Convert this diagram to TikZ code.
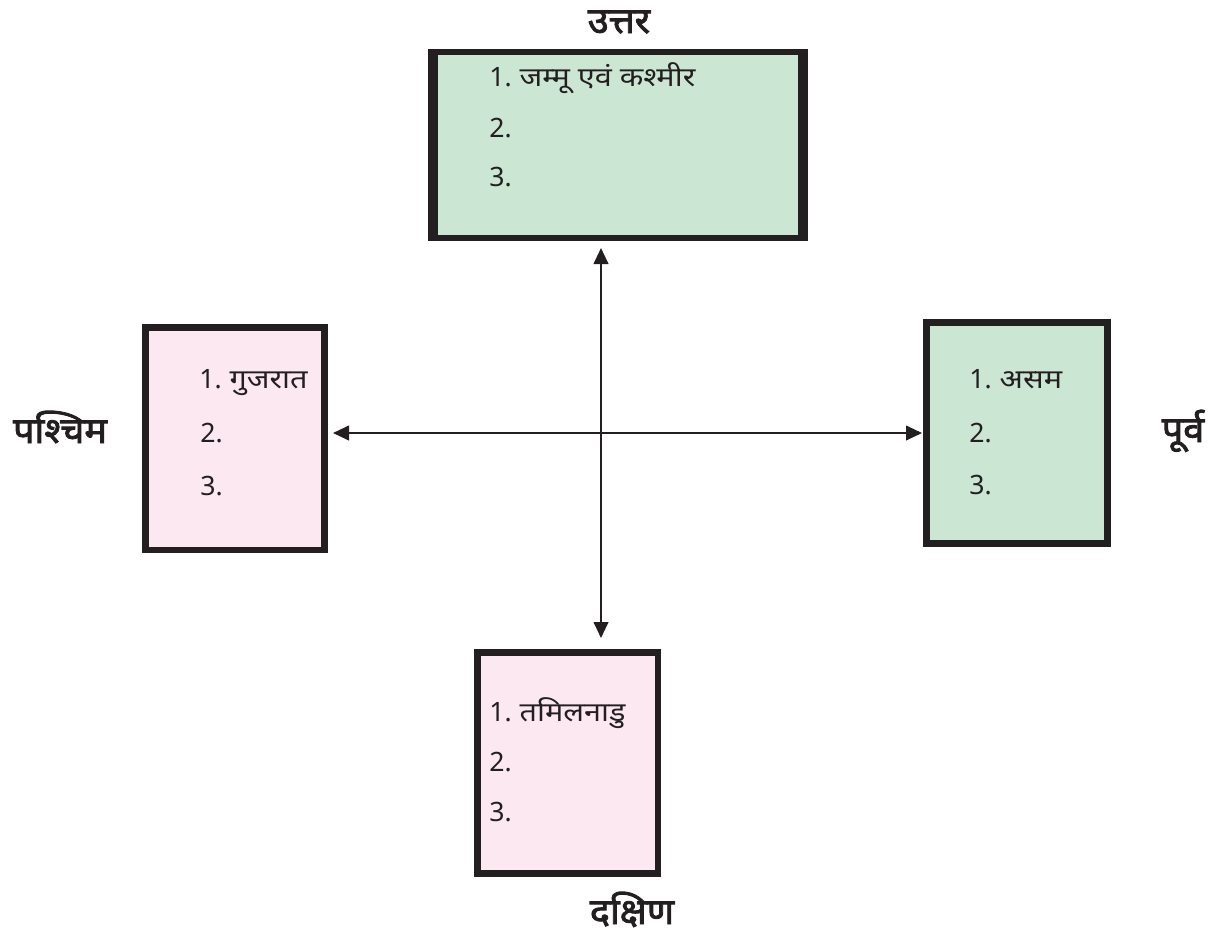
\documentclass[tikz,border=0pt]{standalone}
\usepackage{fontspec}
\setmainfont{Noto Sans}[Script=Devanagari]
\newfontfamily\hindi{Noto Sans}[Script=Devanagari,FakeStretch=1.15]
\newfontfamily\dirfont{Noto Sans}[Script=Devanagari,FakeBold=2.4,FakeStretch=1.05]
\usetikzlibrary{arrows.meta}
\definecolor{boxgreen}{RGB}{204,230,212}
\definecolor{boxpink}{RGB}{252,232,241}
\definecolor{boxline}{RGB}{35,31,32}

\begin{document}
\begin{tikzpicture}[x=0.75pt,y=-0.75pt,
    greenbox/.style={draw=boxline,fill=boxgreen,line width=4.9pt,inner sep=0pt},
    pinkbox/.style={draw=boxline,fill=boxpink,line width=4.9pt,inner sep=0pt},
    item/.style={anchor=base west,inner sep=0pt,text=boxline,font=\fontsize{20}{24}\selectfont},
    dir/.style={anchor=base,inner sep=0pt,text=boxline,font=\fontsize{27}{32}\dirfont},
    arr/.style={{Triangle[length=12pt,width=11pt]}-{Triangle[length=12pt,width=11pt]},line width=1.5pt,draw=boxline}]
\useasboundingbox (0,0) rectangle (1222,939);
\node [greenbox,line width=4.5pt,minimum width=280.5pt,minimum height=139.5pt] (uttar) at (618,145) {};
\draw [boxline,line width=7.5pt] ([xshift=3.75pt]uttar.north west) -- ([xshift=3.75pt]uttar.south west);
\draw [boxline,line width=7.5pt] ([xshift=-3.75pt]uttar.north east) -- ([xshift=-3.75pt]uttar.south east);
\node [pinkbox,minimum width=134.6pt,minimum height=166.9pt] (pashchim) at (235,438.5) {};
\node [greenbox,minimum width=136.1pt,minimum height=166.1pt] (purv) at (1017,433) {};
\node [pinkbox,minimum width=135.4pt,minimum height=166.1pt] (dakshin) at (567.5,763) {};
\coordinate (centre) at (601,433);
\draw [arr,shorten <=5.25pt,shorten >=8.25pt] (uttar.south -| centre) -- (dakshin.north -| centre);
\draw [arr,shorten <=3.75pt,shorten >=0.75pt] (pashchim.east |- centre) -- (purv.west |- centre);
\node [item] (u1) at (489,86) {1.\hspace{0.3em}{\hindi जम्मू एवं कश्मीर}};
\foreach \n/\y in {2/137,3/186}
  \node [item] (u\n) at (489,\y) {\n.};
\node [item] (p1) at (199,388) {1.\hspace{0.3em}{\hindi गुजरात}};
\foreach \n/\y in {2/442,3/495}
  \node [item] (p\n) at (200,\y) {\n.};
\node [item] (e1) at (969,388) {1.\hspace{0.3em}{\hindi असम}};
\foreach \n/\y in {2/442,3/494}
  \node [item] (e\n) at (969,\y) {\n.};
\node [item] (d1) at (489,721) {1.\hspace{0.3em}{\hindi तमिलनाडु}};
\foreach \n/\y in {2/771,3/821}
  \node [item] (d\n) at (489,\y) {\n.};
\node [dir] (uttarlabel) at (619,33) {उत्तर};
\node [dir] (pashchimlabel) at (60,443) {पश्चिम};
\node [dir] (purvlabel) at (1183,442) {पूर्व};
\node [dir] (dakshinlabel) at (632,924) {दक्षिण};
\end{tikzpicture}
\end{document}
